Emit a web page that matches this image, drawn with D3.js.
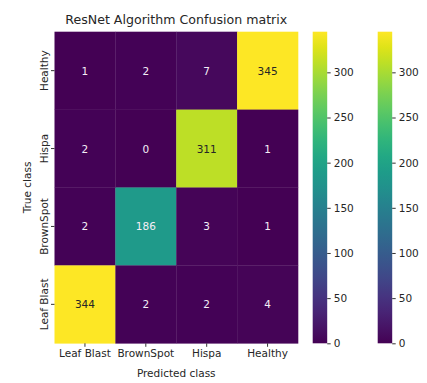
<!DOCTYPE html>
<html><head><meta charset="utf-8">
<script src="https://cdn.jsdelivr.net/npm/d3@7"></script>
<style>body{margin:0;background:#fff}svg{display:block}text{font-family:"DejaVu Sans",sans-serif}</style>
</head><body>
<script>
const predicted = ["Leaf Blast","BrownSpot","Hispa","Healthy"];
const trueRows = ["Healthy","Hispa","BrownSpot","Leaf Blast"];
const matrix = [
  [1,2,7,345],
  [2,0,311,1],
  [2,186,3,1],
  [344,2,2,4]
];
const cbTicks = [0,50,100,150,200,250,300];
const title = "ResNet Algorithm Confusion matrix";
const xTitle = "Predicted class", yTitle = "True class";

const W=427,H=383;
const svg=d3.select("body").append("svg").attr("width",W).attr("height",H);
const L=54.5,R=298,T=31.7,B=343.3;
const x=d3.scaleBand().domain(predicted).range([L,R]);
const y=d3.scaleBand().domain(trueRows).range([T,B]);
const vmax=d3.max(matrix.flat()), vmin=d3.min(matrix.flat());
const color=d3.scaleSequential(d3.interpolateViridis).domain([vmin,vmax]);

const cells=[];
matrix.forEach((row,i)=>row.forEach((v,j)=>cells.push({r:trueRows[i],c:predicted[j],v})));
svg.append("g").selectAll("rect").data(cells).join("rect")
  .attr("x",d=>x(d.c)).attr("y",d=>y(d.r))
  .attr("width",x.bandwidth()+0.3).attr("height",y.bandwidth()+0.3)
  .attr("fill",d=>color(d.v));
svg.append("g").selectAll("text").data(cells).join("text")
  .attr("x",d=>x(d.c)+x.bandwidth()/2).attr("y",d=>y(d.r)+y.bandwidth()/2)
  .attr("text-anchor","middle").attr("dominant-baseline","central")
  .attr("font-size","10.5px")
  .attr("fill",d=>d3.lab(color(d.v)).l>60?"#262626":"#f4eef6")
  .text(d=>d.v);

const xa=svg.append("g").attr("transform",`translate(0,${B})`)
  .call(d3.axisBottom(x).tickSize(3.5).tickPadding(3));
const ya=svg.append("g").attr("transform",`translate(${L},0)`)
  .call(d3.axisLeft(y).tickSize(3.5).tickPadding(3));
[xa,ya].forEach(a=>{a.select(".domain").remove();a.selectAll("line").attr("stroke","#333");
  a.selectAll("text").attr("font-size","10.5px").attr("fill","#262626").attr("font-family","DejaVu Sans");});
ya.selectAll(".tick text").each(function(){
  d3.select(this).attr("x",null).attr("dy",null).attr("text-anchor","middle")
   .attr("transform",`translate(-7,0) rotate(-90)`).attr("y",0);
});

svg.append("text").attr("x",(L+R)/2).attr("y",23.5).attr("text-anchor","middle")
  .attr("font-size","12.6px").attr("fill","#262626").text(title);
svg.append("text").attr("x",(L+R)/2).attr("y",377).attr("text-anchor","middle")
  .attr("font-size","10.5px").attr("fill","#262626").text(xTitle);
svg.append("text").attr("transform",`translate(30.5,${(T+B)/2}) rotate(-90)`).attr("text-anchor","middle")
  .attr("font-size","10.5px").attr("fill","#262626").text(yTitle);

// colorbars
const cbY=d3.scaleLinear().domain([vmin,vmax]).range([B,T]);
const defs=svg.append("defs");
const grad=defs.append("linearGradient").attr("id","vg").attr("x1",0).attr("x2",0).attr("y1",1).attr("y2",0);
d3.range(0,1.0001,0.05).forEach(t=>grad.append("stop").attr("offset",t).attr("stop-color",d3.interpolateViridis(t)));
[312.7,377.7].forEach(cx=>{
  const g=svg.append("g");
  g.append("rect").attr("x",cx).attr("y",T).attr("width",14.5).attr("height",B-T).attr("fill","url(#vg)");
  const ax=g.append("g").attr("transform",`translate(${cx+14.5},0)`).call(d3.axisRight(cbY).tickValues(cbTicks).tickSize(3.5).tickPadding(3));
  ax.select(".domain").remove();
  ax.selectAll("line").attr("stroke","#333");
  ax.selectAll("text").attr("font-size","10.5px").attr("fill","#262626").attr("font-family","DejaVu Sans");
});
</script>
</body></html>
